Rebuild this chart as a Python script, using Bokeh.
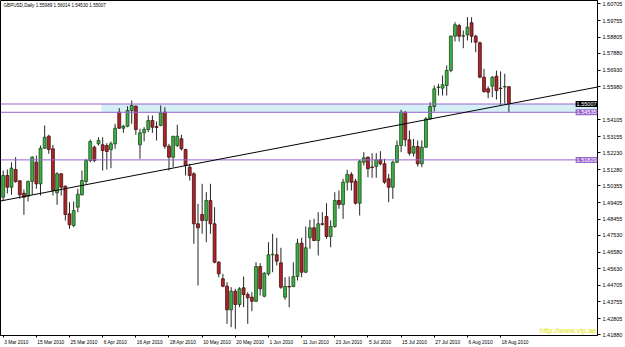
from bokeh.plotting import figure
from bokeh.models import (Range1d, FixedTicker, PrintfTickFormatter, Label, Span,
                          Slope, BoxAnnotation, ColumnDataSource)
from bokeh.embed import file_html
from bokeh.resources import INLINE

title_text = "GBPUSD,Daily 1.55989 1.56014 1.54530 1.55007"
watermark = "http://www.vip.ae"

opens = [1.49707, 1.50941, 1.50275, 1.51282, 1.50639, 1.49934, 1.49764, 1.50600, 1.51697, 1.50469,
         1.52493, 1.53176, 1.52459, 1.49957, 1.51037, 1.50332, 1.48763, 1.48097, 1.49138, 1.49843,
         1.50600, 1.51794, 1.52550, 1.52744, 1.52687, 1.52647, 1.52419, 1.52744, 1.54541, 1.53631,
         1.53744, 1.54637, 1.54882, 1.52687, 1.53369, 1.53557, 1.54069, 1.53727, 1.53784, 1.54541,
         1.52607, 1.51982, 1.52647, 1.53028, 1.52419, 1.51413, 1.51037, 1.48194, 1.48723, 1.48382,
         1.49519, 1.48194, 1.46010, 1.45066, 1.44645, 1.43303, 1.44361, 1.43605, 1.44554, 1.44173,
         1.44020, 1.43792, 1.45766, 1.44077, 1.45350, 1.46431, 1.46431, 1.45976, 1.44020, 1.44628,
         1.44628, 1.45197, 1.47091, 1.45441, 1.47398, 1.47966, 1.47244, 1.48194, 1.48609, 1.47472,
         1.48040, 1.49519, 1.49292, 1.50560, 1.50998, 1.50617, 1.49365, 1.51697, 1.51982, 1.51424,
         1.51452, 1.51834, 1.51606, 1.50753, 1.50275, 1.51697, 1.52647, 1.54541, 1.52971, 1.52209,
         1.52590, 1.51606, 1.52550, 1.54165, 1.54865, 1.55945, 1.55906, 1.56059, 1.56912, 1.58863,
         1.59471, 1.58863, 1.58942, 1.59625, 1.58863, 1.58487, 1.56531, 1.55871, 1.56019, 1.56588,
         1.55906, 1.55974, 1.55989]
highs = [1.51225, 1.51282, 1.51697, 1.51982, 1.50656, 1.50145, 1.50656, 1.52038, 1.52078, 1.52647,
         1.53784, 1.53255, 1.52687, 1.51128, 1.51072, 1.50372, 1.49422, 1.49462, 1.50184, 1.51225,
         1.51890, 1.52988, 1.52647, 1.53119, 1.53119, 1.52778, 1.52874, 1.53881, 1.54768, 1.53824,
         1.54882, 1.55206, 1.54922, 1.53597, 1.53688, 1.54353, 1.54353, 1.54012, 1.54922, 1.54825,
         1.52744, 1.53216, 1.53824, 1.53255, 1.52459, 1.51606, 1.51128, 1.49331, 1.50469, 1.49991,
         1.50469, 1.49138, 1.46067, 1.45350, 1.44873, 1.44588, 1.44497, 1.44588, 1.45197, 1.44304,
         1.44304, 1.46010, 1.45953, 1.45441, 1.47148, 1.47625, 1.47398, 1.46829, 1.45157, 1.45197,
         1.46010, 1.47341, 1.47398, 1.48040, 1.48421, 1.48478, 1.48854, 1.48854, 1.49365, 1.48382,
         1.49991, 1.50088, 1.50753, 1.51265, 1.51128, 1.50753, 1.51834, 1.52266, 1.52021, 1.52209,
         1.52209, 1.52323, 1.51890, 1.51037, 1.51794, 1.52931, 1.54677, 1.54597, 1.53500, 1.53028,
         1.52931, 1.52931, 1.54256, 1.55109, 1.56059, 1.56156, 1.56628, 1.57196, 1.58903, 1.59659,
         1.59568, 1.59187, 1.59943, 1.59943, 1.58942, 1.58561, 1.57009, 1.56019, 1.56588, 1.56912,
         1.56855, 1.56724, 1.56014]
lows = [1.49519, 1.49917, 1.49843, 1.50526, 1.49616, 1.48706, 1.49462, 1.49843, 1.50184, 1.49803,
        1.52459, 1.52175, 1.49803, 1.49274, 1.49803, 1.48382, 1.47910, 1.48001, 1.48854, 1.49803,
        1.50469, 1.51697, 1.51697, 1.52647, 1.51225, 1.51282, 1.51356, 1.52459, 1.53597, 1.53369,
        1.53688, 1.53881, 1.53255, 1.51890, 1.52874, 1.53403, 1.53369, 1.52931, 1.53744, 1.52459,
        1.51225, 1.51413, 1.52550, 1.52362, 1.50941, 1.50656, 1.47057, 1.44685, 1.47625, 1.47148,
        1.47625, 1.45953, 1.45157, 1.44588, 1.42507, 1.42314, 1.42223, 1.43451, 1.43451, 1.42507,
        1.43223, 1.43735, 1.44116, 1.44020, 1.45254, 1.45441, 1.45822, 1.44497, 1.43872, 1.43451,
        1.44588, 1.44969, 1.45157, 1.45385, 1.46772, 1.47204, 1.46391, 1.48097, 1.47341, 1.46863,
        1.47966, 1.49047, 1.48478, 1.50088, 1.50088, 1.49292, 1.48666, 1.51509, 1.50844, 1.50810,
        1.50810, 1.51509, 1.50469, 1.49422, 1.49616, 1.51640, 1.52266, 1.52590, 1.52078, 1.52021,
        1.51452, 1.51413, 1.52516, 1.54108, 1.54580, 1.55490, 1.55490, 1.55490, 1.56815, 1.58561,
        1.58561, 1.58180, 1.58618, 1.58487, 1.57953, 1.56474, 1.55644, 1.55337, 1.55394, 1.55263,
        1.54961, 1.55018, 1.54530]
closes = [1.50941, 1.50275, 1.51356, 1.50600, 1.49843, 1.49707, 1.50600, 1.51982, 1.50469, 1.52493,
          1.53119, 1.52419, 1.50088, 1.51037, 1.50275, 1.48723, 1.48137, 1.48950, 1.49877, 1.50656,
          1.51794, 1.52874, 1.51794, 1.52931, 1.52362, 1.52306, 1.52744, 1.53631, 1.53631, 1.53744,
          1.54637, 1.54922, 1.53557, 1.53369, 1.53557, 1.54069, 1.53688, 1.53671, 1.54506, 1.52607,
          1.51982, 1.53159, 1.53176, 1.52459, 1.51509, 1.50941, 1.48194, 1.47966, 1.48382, 1.49519,
          1.48194, 1.46010, 1.45350, 1.44645, 1.43303, 1.44361, 1.43605, 1.44497, 1.44173, 1.43986,
          1.43792, 1.45766, 1.44497, 1.45385, 1.46431, 1.46459, 1.46067, 1.44588, 1.44628, 1.44600,
          1.45197, 1.47091, 1.45441, 1.46829, 1.47966, 1.47244, 1.48194, 1.48165, 1.47472, 1.48040,
          1.49519, 1.49292, 1.50560, 1.50998, 1.50560, 1.49365, 1.51754, 1.51947, 1.51322, 1.51396,
          1.51834, 1.51606, 1.50560, 1.50275, 1.51697, 1.52647, 1.54541, 1.52971, 1.52209, 1.52590,
          1.51606, 1.52550, 1.54165, 1.54865, 1.55871, 1.55974, 1.56099, 1.56912, 1.58863, 1.59511,
          1.58863, 1.58891, 1.59375, 1.58863, 1.58522, 1.56531, 1.55718, 1.55678, 1.56531, 1.55775,
          1.55888, 1.56002, 1.55007]

date_labels = ["3 Mar 2010", "15 Mar 2010", "25 Mar 2010", "6 Apr 2010", "16 Apr 2010",
               "28 Apr 2010", "10 May 2010", "20 May 2010", "1 Jun 2010", "11 Jun 2010",
               "23 Jun 2010", "5 Jul 2010", "15 Jul 2010", "27 Jul 2010", "6 Aug 2010",
               "18 Aug 2010"]
date_label_bars = [0, 8, 16, 24, 32, 40, 48, 56, 64, 72, 80, 88, 96, 104, 112, 120]

price_ticks = [1.60705, 1.59755, 1.58805, 1.57880, 1.56930, 1.55980, 1.54105, 1.53155,
               1.52230, 1.51280, 1.50355, 1.49405, 1.48455, 1.47530, 1.46580, 1.45630,
               1.44705, 1.43755, 1.42805, 1.41880]

bid_price = 1.55007
level_prices = [1.55007, 1.54535, 1.51829]
zone_low, zone_high = 1.54535, 1.55007
zone_start_bar = 23.7
trend_bars = [0, 122]
trend_prices = [1.4952, 1.5501]

FONT = "Liberation Sans"
PURPLE = "#9966CC"
X0, X1 = -0.65, 143.38
W, H = 625, 347
BORDER_R, BORDER_B = 27, 12
DATE_FS = 4.8

n = len(opens)
bars = list(range(n))
up = [i for i in bars if closes[i] >= opens[i]]
dn = [i for i in bars if closes[i] < opens[i]]


def src(idx):
    return ColumnDataSource(dict(
        x=[bars[i] for i in idx],
        lo=[lows[i] for i in idx],
        hi=[highs[i] for i in idx],
        top=[max(opens[i], closes[i]) for i in idx],
        bot=[min(opens[i], closes[i]) for i in idx],
    ))


s_up, s_dn = src(up), src(dn)

p = figure(width=W, height=H, output_backend="svg", toolbar_location=None,
           x_range=Range1d(X0, X1), y_range=Range1d(1.41842, 1.60893),
           y_axis_location="right", min_border_left=0, min_border_right=BORDER_R,
           min_border_top=0, min_border_bottom=BORDER_B)
p.background_fill_color = "white"
p.border_fill_color = "white"
p.outline_line_color = "black"
p.outline_line_width = 1
p.grid.visible = False

zone = BoxAnnotation(left=zone_start_bar, bottom=zone_low, top=zone_high,
                     fill_color="#D4EFF6", fill_alpha=1, line_color=None, level="underlay")
p.add_layout(zone)

for s, fill, edge in ((s_up, "#3FAF45", "#1C4A1C"), (s_dn, "#A8262C", "#4A0F0F")):
    p.segment(x0="x", y0="lo", x1="x", y1="hi", source=s, line_color="#262626", line_width=1)
    p.vbar(x="x", width=0.7, top="top", bottom="bot", source=s,
           fill_color=fill, line_color=edge, line_width=0.8)

for lv in level_prices:
    p.add_layout(Span(location=lv, dimension="width", line_color=PURPLE, line_width=1))

grad = (trend_prices[1] - trend_prices[0]) / (trend_bars[1] - trend_bars[0])
p.add_layout(Slope(gradient=grad, y_intercept=trend_prices[0] - grad * trend_bars[0],
                   line_color="black", line_width=1))

# right price axis
ya = p.yaxis[0]
ya.ticker = FixedTicker(ticks=price_ticks)
ya.formatter = PrintfTickFormatter(format="%.5f")
ya.major_label_text_font = FONT
ya.major_label_text_font_size = "5.5px"
ya.major_label_text_color = "black"
ya.major_label_standoff = 2
ya.major_tick_out = 3
ya.major_tick_in = 0
ya.minor_tick_out = 0
ya.minor_tick_in = 0
ya.axis_line_color = "black"

# bottom time axis: Bokeh centres labels, so label ticks are moved right by half
# the label width to make each text start at its bar (as in MT4); the small
# tick marks stay on the bars (minor ticks).
CW = {d: 0.556 for d in "0123456789"}
CW.update({" ": 0.278, "M": 0.833, "a": 0.556, "r": 0.333, "A": 0.667, "p": 0.556,
           "y": 0.5, "J": 0.5, "u": 0.556, "n": 0.556, "l": 0.222, "g": 0.556})
px_per_bar = (W - BORDER_R) / (X1 - X0)


def half_width_bars(t):
    return (sum(CW.get(c, 0.556) for c in t) * DATE_FS / 2 + 1) / px_per_bar


label_ticks = [b + half_width_bars(t) for b, t in zip(date_label_bars, date_labels)]
xa = p.xaxis[0]
xa.ticker = FixedTicker(ticks=label_ticks, minor_ticks=date_label_bars)
xa.major_label_overrides = {lt: t for lt, t in zip(label_ticks, date_labels)}
xa.major_label_text_font = FONT
xa.major_label_text_font_size = "%.1fpx" % DATE_FS
xa.major_label_text_color = "black"
xa.major_label_standoff = 2
xa.major_tick_out = 0
xa.major_tick_in = 0
xa.minor_tick_out = 2
xa.minor_tick_in = 0
xa.minor_tick_line_color = "black"
xa.axis_line_color = "black"

# price boxes (annotations are clipped to the frame, so they sit at its right edge)
box_specs = [(bid_price, "black")] + [(lv, PURPLE) for lv in level_prices[1:]]
for price, col in box_specs:
    p.add_layout(Label(x=W - BORDER_R - 1, y=price, x_units="screen", y_units="data",
                       text="%.5f" % price, text_align="right", text_baseline="middle",
                       text_font=FONT, text_font_size="5.5px", text_color="white",
                       background_fill_color=col, background_fill_alpha=1, padding=1))

p.add_layout(Label(x=3, y=330, x_units="screen", y_units="screen", text=title_text,
                   text_align="left", text_baseline="middle", text_font=FONT,
                   text_font_size="4.6px", text_color="black"))
p.add_layout(Label(x=596, y=1, x_units="screen", y_units="screen", text=watermark,
                   text_align="right", text_baseline="bottom", text_font=FONT,
                   text_font_size="7.5px", text_color="#E2E200"))

open("out.html", "w").write(file_html(p, INLINE))
